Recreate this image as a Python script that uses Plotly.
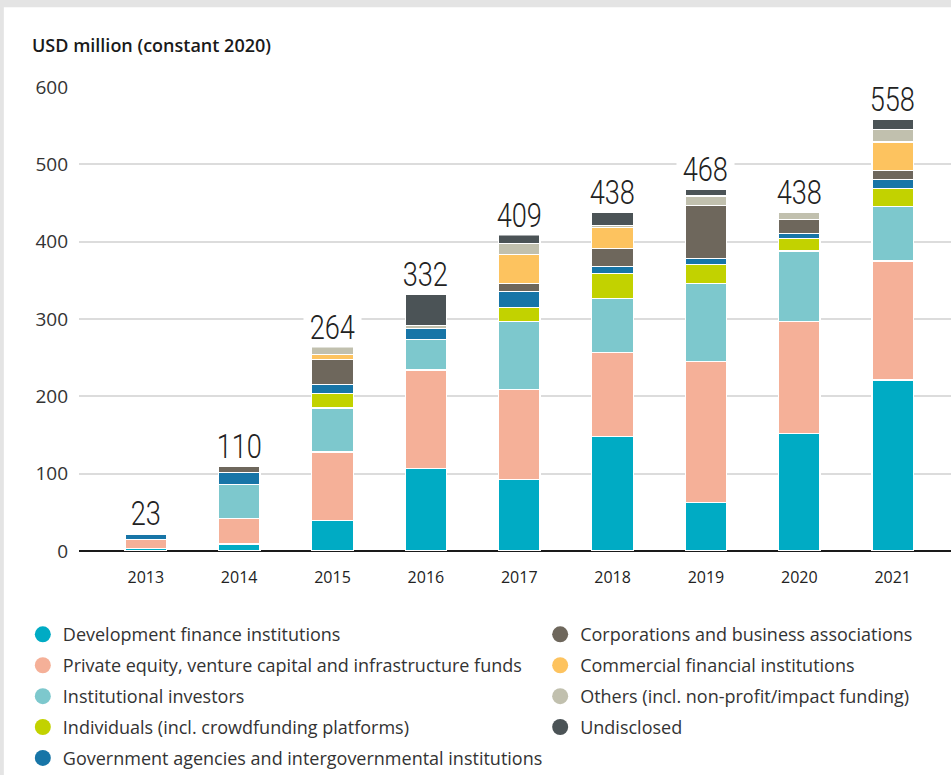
import plotly.graph_objects as go

years = ["2013", "2014", "2015", "2016", "2017", "2018", "2019", "2020", "2021"]

dfi = [3, 9, 39, 107, 92, 148, 63, 152, 221]
private_equity = [12, 33, 89, 127, 117, 109, 182, 145, 154]
institutional = [0, 44, 57, 39, 88, 69, 101, 91, 70]
individuals = [0, 0, 19, 0, 18, 33, 24, 16, 24]
government = [6, 15, 11, 15, 21, 9, 8, 7, 11]
corporations = [0, 8, 33, 0, 10, 23, 69, 18, 12]
commercial = [0, 0, 6, 0, 37, 27, 0, 0, 37]
others = [2, 1, 10, 4, 15, 3, 12, 9, 16]
undisclosed = [0, 0, 0, 40, 11, 17, 9, 0, 13]

totals = [23, 110, 264, 332, 409, 438, 468, 438, 558]

series = [
    ("Development finance institutions", dfi, "#00abc4", "legend"),
    ("Private equity, venture capital and infrastructure funds", private_equity, "#f5b098", "legend"),
    ("Institutional investors", institutional, "#7dc8cd", "legend"),
    ("Individuals (incl. crowdfunding platforms)", individuals, "#c2d200", "legend"),
    ("Government agencies and intergovernmental institutions", government, "#1775a7", "legend"),
    ("Corporations and business associations", corporations, "#6e675c", "legend2"),
    ("Commercial financial institutions", commercial, "#fdc35f", "legend2"),
    ("Others (incl. non-profit/impact funding)", others, "#c1c0ae", "legend2"),
    ("Undisclosed", undisclosed, "#4b5356", "legend2"),
]

fig = go.Figure()

# stacked bars, bottom segment first
for name, vals, color, _ in series:
    fig.add_trace(go.Bar(
        x=years, y=vals, name=name,
        marker=dict(color=color, line=dict(color="white", width=1.2)),
        showlegend=False, hoverinfo="x+y+name",
    ))

# circular legend keys in two columns (empty traces on a hidden axis pair)
for name, vals, color, leg in series:
    fig.add_trace(go.Scatter(
        x=[None], y=[None], mode="markers", name=name,
        xaxis="x2", yaxis="y2",
        marker=dict(color=color, size=16, symbol="circle"),
        legend=leg, legendgroup=name, showlegend=True, hoverinfo="skip",
    ))

# total labels above each bar (category index positions on the x axis)
for idx, tot in enumerate(totals):
    fig.add_annotation(
        x=idx, y=tot, text=str(tot), showarrow=False,
        xanchor="center", yanchor="bottom", yshift=-1,
        font=dict(family="Roboto", size=34, color="#222222", weight=300),
        bgcolor="white", borderpad=0,
    )

# axis caption
fig.add_annotation(
    xref="paper", yref="paper", x=-0.0565, y=1.0904,
    xanchor="left", yanchor="middle", showarrow=False,
    text="USD million (constant 2020)",
    font=dict(family="Open Sans", size=18, color="#1a1a1a", weight=600),
)

# light grey frame along top and left edges of the page
fig.add_shape(type="rect", xref="paper", yref="paper",
              x0=-0.1, x1=1.01, y0=1.172, y1=1.25,
              fillcolor="#e4e4e4", line=dict(width=0), layer="below")
fig.add_shape(type="rect", xref="paper", yref="paper",
              x0=-0.1, x1=-0.0862, y0=-0.6, y1=1.25,
              fillcolor="#e4e4e4", line=dict(width=0), layer="below")

legend_common = dict(
    orientation="v", xref="container", yref="container",
    xanchor="left", yanchor="top",
    font=dict(family="Open Sans", size=18, color="#333333"),
    traceorder="grouped", tracegroupgap=4.5,
    bgcolor="rgba(0,0,0,0)", itemclick=False, itemdoubleclick=False,
)

fig.update_layout(
    width=951, height=775,
    margin=dict(l=79, r=0, t=87, b=224, autoexpand=False),
    paper_bgcolor="white", plot_bgcolor="white",
    barmode="stack", bargap=0.555,
    font=dict(family="Open Sans", color="#333333"),
    xaxis=dict(
        type="category", range=[-0.7155, 8.6247],
        showgrid=False, showline=False, zeroline=False, ticks="",
        tickfont=dict(family="Open Sans", size=16, color="#222222"),
        ticklabelstandoff=15,
    ),
    yaxis=dict(
        range=[0, 600], dtick=100, tick0=0,
        showgrid=True, gridcolor="#dcdcdc", gridwidth=2,
        zeroline=True, zerolinecolor="#1a1a1a", zerolinewidth=2,
        showline=False, ticks="",
        tickfont=dict(family="Open Sans", size=19, color="#333333"),
        ticklabelstandoff=10,
    ),
    xaxis2=dict(overlaying="x", range=[0, 1], visible=False),
    yaxis2=dict(overlaying="y", range=[0, 1], visible=False),
    legend=dict(x=0.024, y=0.205, **legend_common),
    legend2=dict(x=0.568, y=0.205, **legend_common),
    showlegend=True,
)

# narrow the total labels horizontally to a condensed look
condense_js = """
document.querySelectorAll('.annotation-text').forEach(function (t) {
  if (/^\\d+$/.test(t.textContent)) {
    t.style.transformBox = 'fill-box';
    t.style.transformOrigin = 'center';
    t.style.transform = 'scaleX(0.8)';
  }
});
"""

fig.write_html("out.html", post_script=condense_js)
